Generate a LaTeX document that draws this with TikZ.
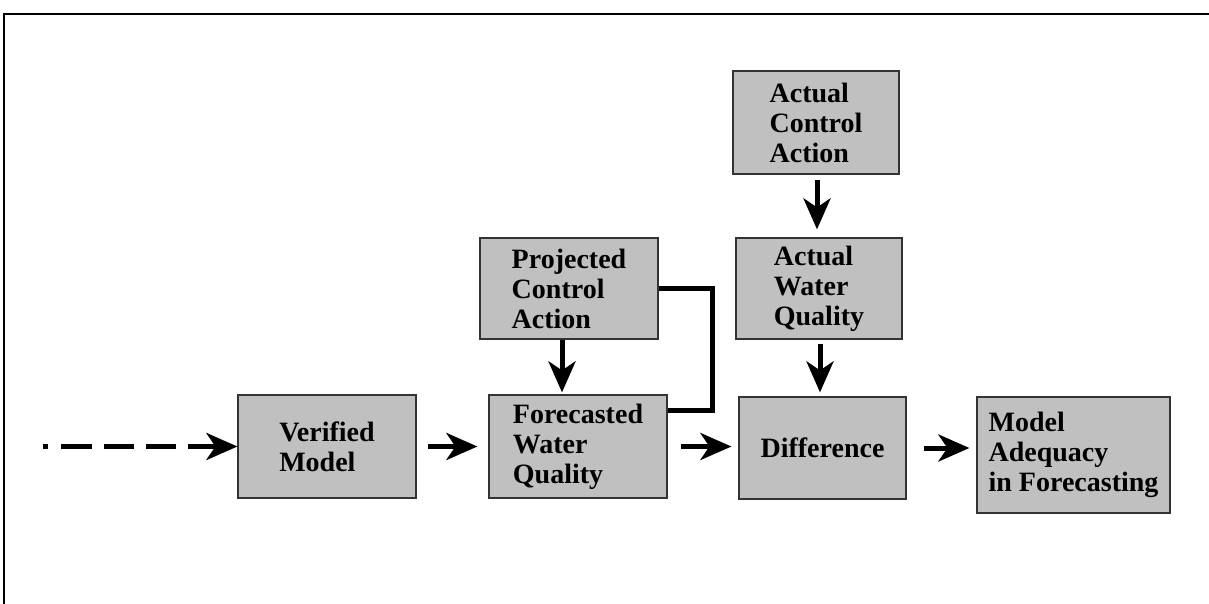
\documentclass[tikz,border=0pt]{standalone}
\usepackage{fontspec}
\setmainfont{Liberation Serif}
\usetikzlibrary{arrows.meta}
\definecolor{boxgray}{RGB}{192,192,192}
\tikzset{
  block/.style={draw=black!80, line width=1.2pt, fill=boxgray, inner sep=0pt,
    align=left, font=\fontsize{28}{30}\selectfont\bfseries},
  arr/.style={line width=5pt, -{Stealth[length=31pt, width=27pt, inset=9pt]}}
}
\begin{document}
\begin{tikzpicture}[x=1pt, y=-1pt]
  \useasboundingbox (0,0) rectangle (1209,604);
  % frame
  \draw[line width=1.5pt] (4,604) -- (4,14) -- (1209,14);

  % boxes
  \node[block, minimum width=178pt, minimum height=103pt] (vermodel) at (327,446.5) {Verified\\Model};
  \node[block, minimum width=178pt, minimum height=103pt] (fcstwq) at (578,446.5) {Forecasted\\Water\\Quality};
  \node[block, minimum width=178pt, minimum height=101pt] (projca) at (569,288.5) {Projected\\Control\\Action};
  \node[block, minimum width=166pt, minimum height=103pt] (actca) at (816,122.5) {Actual\\Control\\Action};
  \node[block, minimum width=166pt, minimum height=101pt] (actwq) at (819,288.5) {Actual\\Water\\Quality};
  \node[block, minimum width=167pt, minimum height=102pt] (diff) at (822.5,448) {Difference};
  \node[block, minimum width=193pt, minimum height=116pt] (adequacy) at (1073.5,455) {Model\\Adequacy\\in Forecasting};

  % connectors
  \coordinate (start) at (43,446.5);
  \draw[arr, dash pattern=on 5pt off 13pt on 31pt off 12pt on 30pt off 12pt on 30pt off 12pt on 80pt]
    (start) -- (vermodel.west);
  \draw[arr, shorten <=11pt, shorten >=11pt] (vermodel.east) -- (fcstwq.west);
  \draw[arr, shorten <=13pt, shorten >=7pt] (fcstwq.east) -- (diff.west |- fcstwq.east);
  \draw[arr, shorten <=17pt, shorten >=7pt] (diff.east) -- (adequacy.west |- diff.east);
  \draw[arr, shorten >=2pt] (projca.south -| 562,0) -- (fcstwq.north -| 562,0);
  \draw[arr, shorten <=5pt, shorten >=8pt] (actca.south -| 817,0) -- (actwq.north -| 817,0);
  \draw[arr, shorten <=4pt, shorten >=4pt] (actwq.south -| 820,0) -- (diff.north -| 820,0);
  \draw[line width=5pt] (projca.east) -- (712,288.5) -- (712,410) -- (fcstwq.east |- 0,410);
\end{tikzpicture}
\end{document}
